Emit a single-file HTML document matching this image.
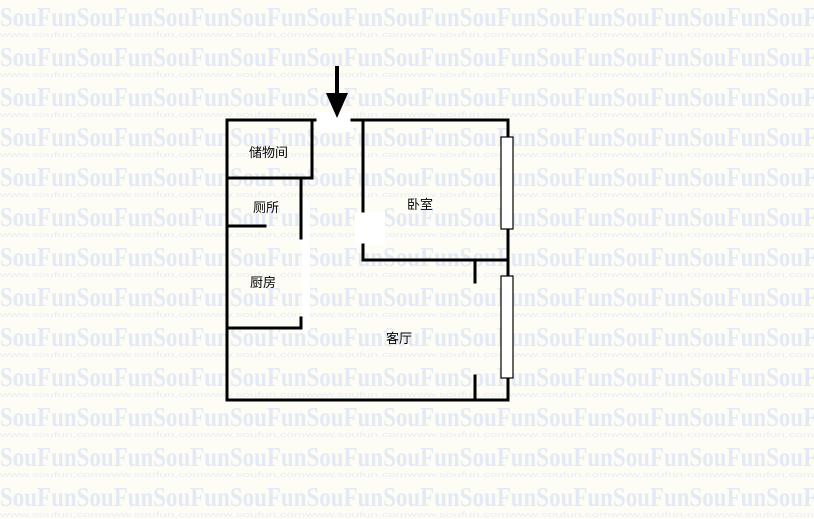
<!DOCTYPE html>
<html><head><meta charset="utf-8"><style>
html,body{margin:0;padding:0;background:#fdfdf6;}
svg{display:block;}
.wm{font-family:"Liberation Serif",serif;font-weight:bold;font-size:27px;fill:#e4eaf5;}
.url{font-family:"Liberation Sans",sans-serif;font-size:7px;fill:#e8ecf3;}
.lb{font-family:"Liberation Sans","Noto Sans CJK SC",sans-serif;font-size:13px;fill:#000;}
</style></head><body>
<svg width="814" height="519" xmlns="http://www.w3.org/2000/svg">
<rect width="814" height="519" fill="#fdfdf6"/>
<g>
<text class="wm" x="0" y="26" textLength="830" lengthAdjust="spacingAndGlyphs">SouFunSouFunSouFunSouFunSouFunSouFunSouFunSouFunSouFunSouFunSouFu</text>
<text class="wm" x="0" y="66" textLength="830" lengthAdjust="spacingAndGlyphs">SouFunSouFunSouFunSouFunSouFunSouFunSouFunSouFunSouFunSouFunSouFu</text>
<text class="wm" x="0" y="106" textLength="830" lengthAdjust="spacingAndGlyphs">SouFunSouFunSouFunSouFunSouFunSouFunSouFunSouFunSouFunSouFunSouFu</text>
<text class="wm" x="0" y="146" textLength="830" lengthAdjust="spacingAndGlyphs">SouFunSouFunSouFunSouFunSouFunSouFunSouFunSouFunSouFunSouFunSouFu</text>
<text class="wm" x="0" y="186" textLength="830" lengthAdjust="spacingAndGlyphs">SouFunSouFunSouFunSouFunSouFunSouFunSouFunSouFunSouFunSouFunSouFu</text>
<text class="wm" x="0" y="226" textLength="830" lengthAdjust="spacingAndGlyphs">SouFunSouFunSouFunSouFunSouFunSouFunSouFunSouFunSouFunSouFunSouFu</text>
<text class="wm" x="0" y="266" textLength="830" lengthAdjust="spacingAndGlyphs">SouFunSouFunSouFunSouFunSouFunSouFunSouFunSouFunSouFunSouFunSouFu</text>
<text class="wm" x="0" y="306" textLength="830" lengthAdjust="spacingAndGlyphs">SouFunSouFunSouFunSouFunSouFunSouFunSouFunSouFunSouFunSouFunSouFu</text>
<text class="wm" x="0" y="346" textLength="830" lengthAdjust="spacingAndGlyphs">SouFunSouFunSouFunSouFunSouFunSouFunSouFunSouFunSouFunSouFunSouFu</text>
<text class="wm" x="0" y="386" textLength="830" lengthAdjust="spacingAndGlyphs">SouFunSouFunSouFunSouFunSouFunSouFunSouFunSouFunSouFunSouFunSouFu</text>
<text class="wm" x="0" y="426" textLength="830" lengthAdjust="spacingAndGlyphs">SouFunSouFunSouFunSouFunSouFunSouFunSouFunSouFunSouFunSouFunSouFu</text>
<text class="wm" x="0" y="466" textLength="830" lengthAdjust="spacingAndGlyphs">SouFunSouFunSouFunSouFunSouFunSouFunSouFunSouFunSouFunSouFunSouFu</text>
<text class="wm" x="0" y="506" textLength="830" lengthAdjust="spacingAndGlyphs">SouFunSouFunSouFunSouFunSouFunSouFunSouFunSouFunSouFunSouFunSouFu</text>
</g>
<g class="url">
<text x="0" y="37" textLength="814" lengthAdjust="spacingAndGlyphs">www.soufun.comwww.soufun.comwww.soufun.comwww.soufun.comwww.soufun.comwww.soufun.comwww.soufun.comwww.soufun.com</text>
<text x="0" y="77" textLength="814" lengthAdjust="spacingAndGlyphs">www.soufun.comwww.soufun.comwww.soufun.comwww.soufun.comwww.soufun.comwww.soufun.comwww.soufun.comwww.soufun.com</text>
<text x="0" y="117" textLength="814" lengthAdjust="spacingAndGlyphs">www.soufun.comwww.soufun.comwww.soufun.comwww.soufun.comwww.soufun.comwww.soufun.comwww.soufun.comwww.soufun.com</text>
<text x="0" y="157" textLength="814" lengthAdjust="spacingAndGlyphs">www.soufun.comwww.soufun.comwww.soufun.comwww.soufun.comwww.soufun.comwww.soufun.comwww.soufun.comwww.soufun.com</text>
<text x="0" y="197" textLength="814" lengthAdjust="spacingAndGlyphs">www.soufun.comwww.soufun.comwww.soufun.comwww.soufun.comwww.soufun.comwww.soufun.comwww.soufun.comwww.soufun.com</text>
<text x="0" y="237" textLength="814" lengthAdjust="spacingAndGlyphs">www.soufun.comwww.soufun.comwww.soufun.comwww.soufun.comwww.soufun.comwww.soufun.comwww.soufun.comwww.soufun.com</text>
<text x="0" y="277" textLength="814" lengthAdjust="spacingAndGlyphs">www.soufun.comwww.soufun.comwww.soufun.comwww.soufun.comwww.soufun.comwww.soufun.comwww.soufun.comwww.soufun.com</text>
<text x="0" y="317" textLength="814" lengthAdjust="spacingAndGlyphs">www.soufun.comwww.soufun.comwww.soufun.comwww.soufun.comwww.soufun.comwww.soufun.comwww.soufun.comwww.soufun.com</text>
<text x="0" y="357" textLength="814" lengthAdjust="spacingAndGlyphs">www.soufun.comwww.soufun.comwww.soufun.comwww.soufun.comwww.soufun.comwww.soufun.comwww.soufun.comwww.soufun.com</text>
<text x="0" y="397" textLength="814" lengthAdjust="spacingAndGlyphs">www.soufun.comwww.soufun.comwww.soufun.comwww.soufun.comwww.soufun.comwww.soufun.comwww.soufun.comwww.soufun.com</text>
<text x="0" y="437" textLength="814" lengthAdjust="spacingAndGlyphs">www.soufun.comwww.soufun.comwww.soufun.comwww.soufun.comwww.soufun.comwww.soufun.comwww.soufun.comwww.soufun.com</text>
<text x="0" y="477" textLength="814" lengthAdjust="spacingAndGlyphs">www.soufun.comwww.soufun.comwww.soufun.comwww.soufun.comwww.soufun.comwww.soufun.comwww.soufun.comwww.soufun.com</text>
<text x="0" y="517" textLength="814" lengthAdjust="spacingAndGlyphs">www.soufun.comwww.soufun.comwww.soufun.comwww.soufun.comwww.soufun.comwww.soufun.comwww.soufun.comwww.soufun.com</text>
</g>
<g fill="#fff">
<rect x="315" y="112" width="38" height="20"/>
<rect x="302" y="200" width="8" height="130"/>
<rect x="355" y="212" width="30" height="33"/>
</g>
<g stroke="#000" stroke-width="3" fill="none" stroke-linecap="square">
<path d="M227,120 H315 M352,120 H508 V400 H227 V120"/>
<path d="M312,120 V178 H227"/>
<path d="M301,178 V238"/>
<path d="M227,226 H265"/>
<path d="M301,318 V328 H227"/>
<path d="M363,120 V211 M363,245 V260 H508"/>
<path d="M475,260 V282 M475,376 V400"/>
</g>
<g stroke="#000" stroke-width="1.2" fill="#fff">
<rect x="501" y="137" width="12" height="92"/>
<rect x="501" y="276" width="12" height="102"/>
</g>
<rect x="335" y="66" width="4" height="30" fill="#000"/>
<polygon points="326,93 348,93 337,118" fill="#000"/>
<text class="lb" x="249" y="157">储物间</text>
<text class="lb" x="253" y="212">厕所</text>
<text class="lb" x="407" y="209">卧室</text>
<text class="lb" x="250" y="287">厨房</text>
<text class="lb" x="386" y="343">客厅</text>
</svg>
</body></html>
